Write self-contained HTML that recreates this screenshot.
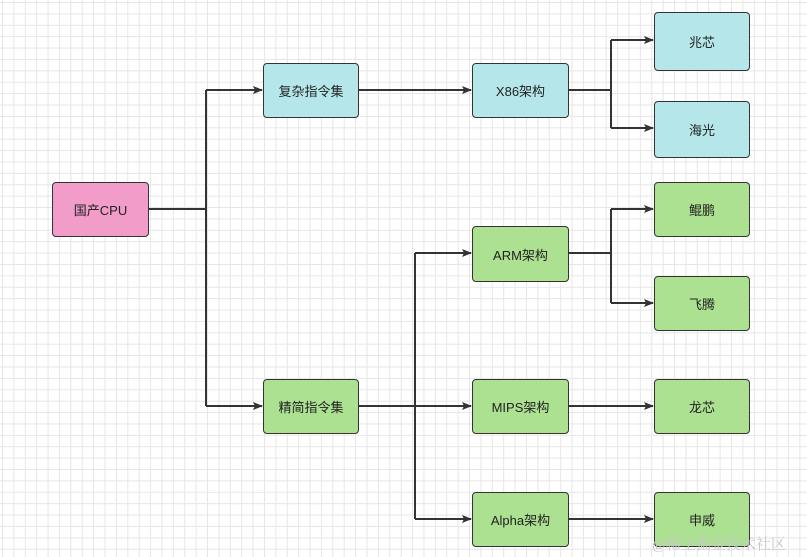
<!DOCTYPE html>
<html><head><meta charset="utf-8"><style>
html,body{margin:0;padding:0;background:#fff}
body{width:807px;height:557px;overflow:hidden;position:relative;font-family:"Liberation Sans","Noto Sans CJK SC",sans-serif}
.grid{position:absolute;left:0;top:0;width:807px;height:557px;
background-image:linear-gradient(#e6e6e6 1px,transparent 1px),linear-gradient(90deg,#e6e6e6 1px,transparent 1px);
background-size:11.4px 11.4px;background-position:2px 2px}
.b{position:absolute;box-sizing:border-box;border:1.5px solid #333;border-radius:4px;display:flex;align-items:center;justify-content:center;font-size:13px;color:#222}
.c{background:#b5e7ea}.g{background:#abe190}.p{background:#f29cc9}
svg{position:absolute;left:0;top:0}
.wm{position:absolute;left:652px;top:533px;font-size:15px;color:#c8c8c8;font-family:"Liberation Serif","Noto Serif CJK SC",serif}
</style></head><body>
<div class="grid"></div>
<svg width="807" height="557" viewBox="0 0 807 557">
<defs><marker id="a" markerWidth="10" markerHeight="8" refX="9" refY="4" orient="auto" markerUnits="userSpaceOnUse"><path d="M0,0 L10,4 L0,8 L2,4 Z" fill="#333"/></marker></defs>
<g stroke="#333" stroke-width="2" fill="none">
<path d="M148,209 H206"/><path d="M206,90 V406"/>
<path d="M206,90 H262" marker-end="url(#a)"/><path d="M206,406 H262" marker-end="url(#a)"/>
<path d="M358,90 H471" marker-end="url(#a)"/>
<path d="M568,90 H611"/><path d="M611,40 V128"/>
<path d="M611,40 H653" marker-end="url(#a)"/><path d="M611,128 H653" marker-end="url(#a)"/>
<path d="M358,406 H415"/><path d="M415,253 V519"/>
<path d="M415,253 H471" marker-end="url(#a)"/><path d="M415,406 H471" marker-end="url(#a)"/><path d="M415,519 H471" marker-end="url(#a)"/>
<path d="M568,253 H611"/><path d="M611,209 V303"/>
<path d="M611,209 H653" marker-end="url(#a)"/><path d="M611,303 H653" marker-end="url(#a)"/>
<path d="M568,406 H653" marker-end="url(#a)"/><path d="M568,519 H653" marker-end="url(#a)"/>
</g></svg>
<div class="b p" style="left:52px;top:182px;width:97px;height:55px">国产CPU</div>
<div class="b c" style="left:263px;top:63px;width:96px;height:55px">复杂指令集</div>
<div class="b c" style="left:472px;top:63px;width:97px;height:55px">X86架构</div>
<div class="b c" style="left:654px;top:12px;width:96px;height:59px">兆芯</div>
<div class="b c" style="left:654px;top:101px;width:96px;height:57px">海光</div>
<div class="b g" style="left:654px;top:182px;width:96px;height:55px">鲲鹏</div>
<div class="b g" style="left:654px;top:276px;width:96px;height:55px">飞腾</div>
<div class="b g" style="left:472px;top:226px;width:97px;height:56px">ARM架构</div>
<div class="b g" style="left:263px;top:379px;width:96px;height:55px">精简指令集</div>
<div class="b g" style="left:472px;top:379px;width:97px;height:55px">MIPS架构</div>
<div class="b g" style="left:654px;top:379px;width:96px;height:55px">龙芯</div>
<div class="b g" style="left:472px;top:492px;width:97px;height:55px">Alpha架构</div>
<div class="b g" style="left:654px;top:492px;width:96px;height:55px">申威</div>
<div class="wm">@稀土掘金技术社区</div>
</body></html>
